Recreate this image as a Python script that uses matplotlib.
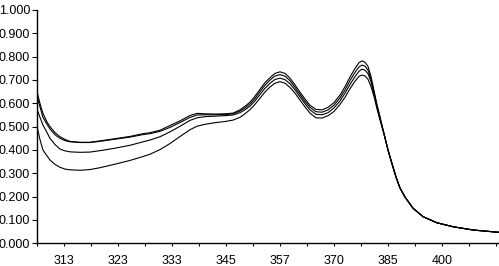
import numpy as np
import matplotlib
matplotlib.use('Agg')
import matplotlib.pyplot as plt

plt.rcParams['font.family'] = ['Liberation Sans', 'DejaVu Sans']

# category position along the x axis (one unit = one tick interval)
pos = [0.00, 0.11, 0.22, 0.37, 0.48, 0.67, 0.85, 1.04, 1.22, 1.59,
       1.96, 2.33, 2.81, 3.44, 3.93, 4.19, 4.56, 4.93, 5.30, 5.67,
       5.93, 6.22, 6.59, 6.96, 7.26, 7.52, 7.70, 7.89, 8.07, 8.26,
       8.44, 8.63, 8.81, 9.00, 9.19, 9.37, 9.56, 9.74, 9.93, 10.11,
       10.33, 10.56, 10.78, 11.00, 11.22, 11.41, 11.59, 11.78, 11.93, 12.04,
       12.15, 12.26, 12.37, 12.48, 12.59, 12.70,
       12.85, 13.00, 13.15, 13.30, 13.44, 13.63, 13.93, 14.30, 14.81, 15.41,
       16.15, 17.11]

# shared long-wavelength tail
tail = [0.470, 0.400, 0.340, 0.283, 0.238, 0.198, 0.150, 0.114, 0.088, 0.071,
        0.057, 0.047]

curve_a = [0.650, 0.600, 0.557, 0.520, 0.500, 0.474, 0.457, 0.445, 0.437, 0.433,
           0.433, 0.439, 0.447, 0.458, 0.470, 0.474, 0.485, 0.505, 0.525, 0.548,
           0.557, 0.555, 0.554, 0.555, 0.558, 0.572, 0.587, 0.605, 0.630, 0.660,
           0.688, 0.710, 0.728, 0.735, 0.728, 0.708, 0.678, 0.648, 0.618, 0.592,
           0.574, 0.572, 0.583, 0.603, 0.635, 0.672, 0.712, 0.750, 0.775, 0.782,
           0.776, 0.758, 0.715, 0.655, 0.595, 0.545] + tail
curve_b = [0.630, 0.585, 0.540, 0.510, 0.490, 0.465, 0.450, 0.440, 0.435, 0.432,
           0.432, 0.437, 0.445, 0.455, 0.466, 0.470, 0.480, 0.497, 0.518, 0.540,
           0.550, 0.551, 0.551, 0.552, 0.555, 0.567, 0.580, 0.597, 0.620, 0.650,
           0.677, 0.700, 0.717, 0.723, 0.716, 0.697, 0.668, 0.638, 0.608, 0.583,
           0.564, 0.562, 0.572, 0.592, 0.623, 0.658, 0.697, 0.733, 0.757, 0.764,
           0.759, 0.742, 0.703, 0.648, 0.590, 0.538] + tail
curve_c = [0.575, 0.540, 0.507, 0.475, 0.450, 0.423, 0.404, 0.396, 0.392, 0.390,
           0.391, 0.397, 0.406, 0.420, 0.435, 0.443, 0.457, 0.478, 0.502, 0.527,
           0.538, 0.543, 0.545, 0.547, 0.550, 0.560, 0.572, 0.588, 0.610, 0.638,
           0.664, 0.686, 0.702, 0.708, 0.701, 0.684, 0.657, 0.628, 0.598, 0.572,
           0.553, 0.551, 0.560, 0.580, 0.610, 0.644, 0.680, 0.715, 0.738, 0.746,
           0.742, 0.727, 0.693, 0.641, 0.585, 0.535] + tail
curve_d = [0.500, 0.445, 0.400, 0.375, 0.357, 0.338, 0.326, 0.318, 0.315, 0.313,
           0.316, 0.324, 0.337, 0.355, 0.372, 0.382, 0.402, 0.428, 0.458, 0.487,
           0.502, 0.510, 0.517, 0.522, 0.528, 0.540, 0.555, 0.573, 0.595, 0.622,
           0.648, 0.670, 0.686, 0.693, 0.686, 0.668, 0.643, 0.614, 0.584, 0.558,
           0.538, 0.537, 0.547, 0.565, 0.595, 0.626, 0.662, 0.695, 0.716, 0.721,
           0.717, 0.703, 0.672, 0.630, 0.578, 0.530] + tail

wl_labels = ['313', '323', '333', '345', '357', '370', '385', '400']

fig = plt.figure(figsize=(4.99, 2.66), dpi=100)
ax = fig.add_axes([37/499, 22.7/266, 462/499, 233.3/266])

for c in [curve_a, curve_b, curve_c, curve_d]:
    ax.plot(pos, c, color='black', lw=0.8)

ax.set_xlim(0, 462/27)
ax.set_ylim(0, 1.0)

ticks = np.arange(0, 18)
labels = [''] * len(ticks)
for i, t in enumerate(wl_labels):
    labels[2*i+1] = t
ax.set_xticks(ticks)
ax.set_xticklabels(labels)
ax.set_yticks(np.arange(0, 1.01, 0.1))
ax.set_yticklabels(['%.3f' % v for v in np.arange(0, 1.01, 0.1)])

ax.spines['top'].set_visible(False)
ax.spines['right'].set_visible(False)
ax.spines['left'].set_linewidth(1.0)
ax.spines['bottom'].set_linewidth(1.0)
ax.tick_params(axis='y', length=3.5, width=0.8, pad=1.5, labelsize=9)
ax.tick_params(axis='x', length=2.5, width=0.8, pad=6, labelsize=9)

fig.savefig('out.png', dpi=100)
